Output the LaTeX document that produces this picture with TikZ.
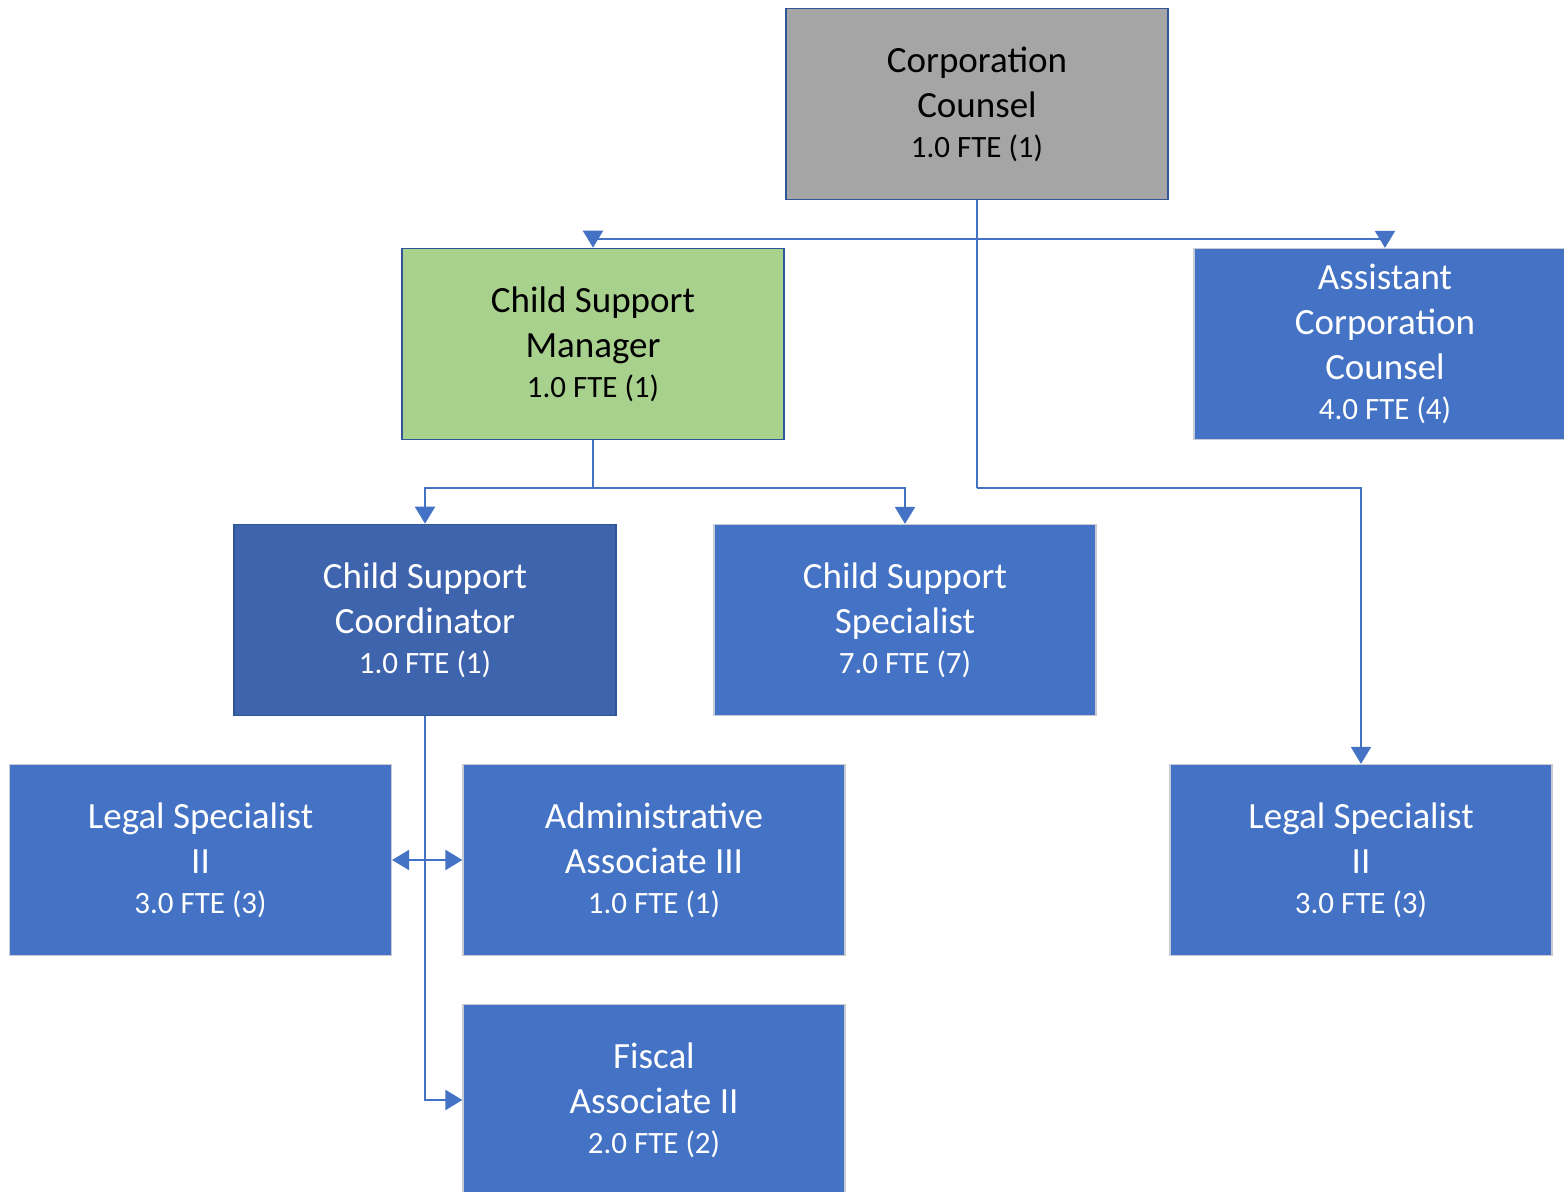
\documentclass[tikz,border=0pt]{standalone}
\usepackage{fontspec}
\setmainfont{Carlito}
\usetikzlibrary{arrows.meta}
\definecolor{boxblue}{HTML}{4472C4}
\definecolor{boxdark}{HTML}{3F64AE}
\definecolor{edgeblue}{HTML}{2F5597}
\definecolor{boxgreen}{HTML}{A9D18E}
\definecolor{boxgray}{HTML}{A5A5A5}
\definecolor{edgegray}{HTML}{C8CCD4}
\newcommand{\fte}[1]{{\fontsize{15.5}{21}\selectfont #1}}
\begin{document}
\begin{tikzpicture}[x=0.5pt,y=-0.5pt,
    post/.style={draw=edgegray,line width=0.6pt,fill=boxblue,text=white,
      minimum width=191pt,minimum height=95.5pt,align=center,
      font=\fontsize{18.5}{22.5}\selectfont,inner sep=0pt},
    head/.style={post,draw=edgeblue,line width=0.8pt,text=black},
    conn/.style={draw=boxblue,line width=1pt,-{Triangle[width=10pt,length=8.5pt]}},
    link/.style={draw=boxblue,line width=1pt}]
  \useasboundingbox (0,0) rectangle (1564,1192);
  % boxes
  \node[head,fill=boxgray] (cc) at (977,104) {Corporation\\Counsel\\[-2.5pt]\fte{1.0 FTE (1)}};
  \node[head,fill=boxgreen] (csm) at (593,344) {Child Support\\Manager\\[-2.5pt]\fte{1.0 FTE (1)}};
  \node[post] (acc) at (1385,344) {Assistant\\Corporation\\Counsel\\[-2.5pt]\fte{4.0 FTE (4)}};
  \node[post,fill=boxdark,draw=edgeblue,line width=0.8pt] (csc) at (425,620) {Child Support\\Coordinator\\[-2.5pt]\fte{1.0 FTE (1)}};
  \node[post] (css) at (905,620) {Child Support\\Specialist\\[-2.5pt]\fte{7.0 FTE (7)}};
  \node[post] (lsl) at (200.5,860) {Legal Specialist\\II\\[-2.5pt]\fte{3.0 FTE (3)}};
  \node[post] (aa) at (654,860) {Administrative\\Associate III\\[-2.5pt]\fte{1.0 FTE (1)}};
  \node[post] (fa) at (654,1100) {Fiscal\\Associate II\\[-2.5pt]\fte{2.0 FTE (2)}};
  \node[post] (lsr) at (1361,860) {Legal Specialist\\II\\[-2.5pt]\fte{3.0 FTE (3)}};
  % junctions
  \coordinate (j1) at (977,239);
  \coordinate (j2) at (593,488);
  \coordinate (j3) at (977,488);
  \coordinate (j4) at (425,860);
  % connectors
  \draw[link] (cc.south) -- (j3);
  \draw[conn] (j1) -| (csm.north);
  \draw[conn] (j1) -| (acc.north);
  \draw[conn] (j3) -| (lsr.north);
  \draw[link] (csm.south) -- (j2);
  \draw[conn] (j2) -| (csc.north);
  \draw[conn] (j2) -| (css.north);
  \draw[conn] (csc.south) |- (fa.west);
  \draw[conn] (j4) -- (lsl.east);
  \draw[conn] (j4) -- (aa.west);
\end{tikzpicture}
\end{document}
